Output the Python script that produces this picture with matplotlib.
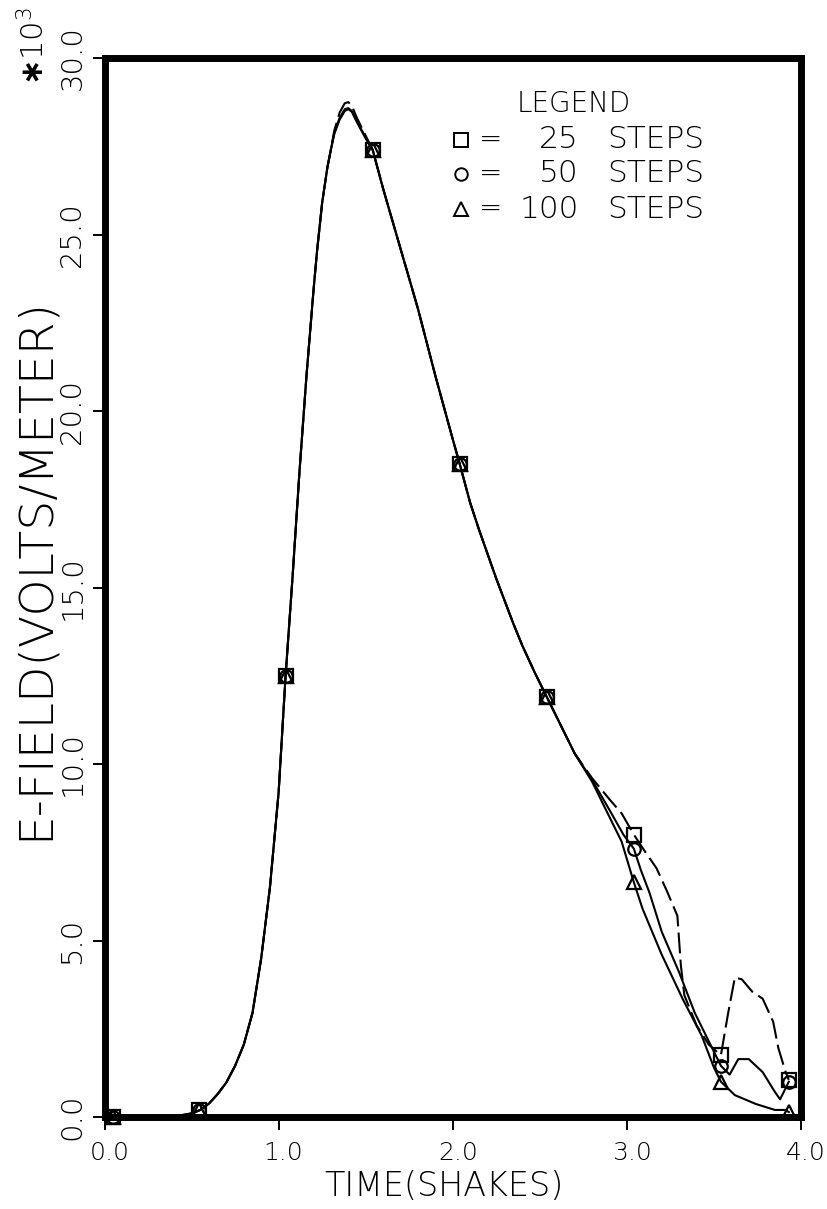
import matplotlib
matplotlib.use("Agg")
import matplotlib.pyplot as plt
from matplotlib.transforms import ScaledTranslation

# ---- data: electric field (x1000 V/m) vs time (shakes) for three step counts ----
# shared rising edge
t_rise = [0.00, 0.20, 0.40, 0.50, 0.55, 0.60, 0.65, 0.70, 0.75, 0.80, 0.85,
          0.90, 0.95, 1.00, 1.04, 1.08, 1.12, 1.16, 1.20, 1.22, 1.25, 1.28,
          1.30]
e_rise = [0.00, 0.00, 0.02, 0.10, 0.20, 0.38, 0.65, 0.98, 1.45, 2.05, 2.95,
          4.50, 6.50, 9.20, 12.50, 15.30, 18.30, 21.00, 23.40, 24.50, 25.90,
          26.90, 27.40]

# peak region, slightly different per run
t_peak = [1.32, 1.35, 1.38, 1.40, 1.42, 1.45, 1.50]
e_peak_25 = [27.95, 28.45, 28.72, 28.75, 28.65, 28.30, 27.80]
e_peak_50 = [27.90, 28.30, 28.55, 28.58, 28.50, 28.20, 27.75]
e_peak_100 = [27.85, 28.25, 28.50, 28.55, 28.48, 28.18, 27.72]

# shared falling edge
t_fall = [1.54, 1.60, 1.70, 1.80, 1.90, 2.00, 2.04, 2.10, 2.15, 2.20, 2.25,
          2.30, 2.35, 2.40, 2.47, 2.54, 2.60, 2.70]
e_fall = [27.40, 26.30, 24.60, 22.90, 21.00, 19.20, 18.50, 17.40, 16.65,
          15.95, 15.25, 14.60, 13.95, 13.35, 12.60, 11.90, 11.30, 10.30]

# late-time tails, where the runs separate
t_tail_25 = [2.80, 2.90, 2.97, 3.04, 3.10, 3.17, 3.23, 3.29, 3.31, 3.33, 3.40,
             3.47, 3.54, 3.58, 3.62, 3.66, 3.72, 3.78, 3.84, 3.87, 3.91, 3.93]
e_tail_25 = [9.60, 9.00, 8.60, 8.00, 7.55, 7.05, 6.40, 5.70, 4.30, 3.45, 2.60,
             2.05, 1.75, 2.90, 3.95, 3.90, 3.55, 3.35, 2.70, 1.95, 1.30, 1.05]

t_tail_50 = [2.80, 2.90, 2.98, 3.04, 3.08, 3.13, 3.20, 3.30, 3.39, 3.49, 3.54,
             3.59, 3.64, 3.70, 3.78, 3.85, 3.88, 3.93]
e_tail_50 = [9.55, 8.70, 8.00, 7.60, 7.00, 6.35, 5.25, 4.10, 2.95, 1.95, 1.45,
             1.20, 1.64, 1.64, 1.27, 0.71, 0.50, 1.00]

t_tail_100 = [2.80, 2.90, 2.97, 3.04, 3.09, 3.20, 3.32, 3.43, 3.50, 3.54, 3.62,
              3.74, 3.85, 3.91, 3.93]
e_tail_100 = [9.50, 8.50, 7.80, 6.65, 5.90, 4.60, 3.35, 2.30, 1.40, 1.00, 0.62,
              0.37, 0.20, 0.20, 0.14]

# plotted sample points (symbols)
t_mark = [0.05, 0.54, 1.04, 1.54, 2.04, 2.54, 3.04, 3.54, 3.93]
e_mark_25 = [0.0, 0.2, 12.5, 27.4, 18.5, 11.9, 8.00, 1.75, 1.05]
e_mark_50 = [0.0, 0.2, 12.5, 27.4, 18.5, 11.9, 7.60, 1.45, 1.00]
e_mark_100 = [0.0, 0.2, 12.5, 27.4, 18.5, 11.9, 6.65, 1.00, 0.14]

x_ticks = [0.0, 1.0, 2.0, 3.0, 4.0]
y_ticks = [0.0, 5.0, 10.0, 15.0, 20.0, 25.0, 30.0]
steps = [25, 50, 100]
symbols = ["s", "o", "^"]

# ---- figure ----
FONT = "DejaVu Sans"
plt.rcParams["font.family"] = [FONT]
plt.rcParams["font.weight"] = 200
plt.rcParams["axes.labelweight"] = 200

W, H, DPI = 827, 1209, 100
fig = plt.figure(figsize=(W / DPI, H / DPI), dpi=DPI)
fig.patch.set_facecolor("white")

x0, x1, yb, yt = 104.5, 801.0, 1117.0, 58.0
ax = fig.add_axes([x0 / W, (H - yb) / H, (x1 - x0) / W, (yb - yt) / H])
ax.set_xlim(0.0, 4.0)
ax.set_ylim(0.0, 30.0)

series = [
    (t_rise + t_peak + t_fall + t_tail_25,
     e_rise + e_peak_25 + e_fall + e_tail_25, e_mark_25, (0, (10, 3))),
    (t_rise + t_peak + t_fall + t_tail_50,
     e_rise + e_peak_50 + e_fall + e_tail_50, e_mark_50, "-"),
    (t_rise + t_peak + t_fall + t_tail_100,
     e_rise + e_peak_100 + e_fall + e_tail_100, e_mark_100, "-"),
]
msizes = [9.5, 9.0, 10.0]
for (tt, ee, em, ls), sym, ms in zip(series, symbols, msizes):
    ax.plot(tt, ee, color="black", lw=1.5, ls=ls, solid_joinstyle="round",
            zorder=3)
    ax.plot(t_mark, em, ls="none", marker=sym, ms=ms, mfc="none",
            mec="black", mew=1.6, zorder=4, clip_on=False)

# frame and ticks
for sp in ax.spines.values():
    sp.set_linewidth(5.0)
    sp.set_color("black")
ax.set_xticks(x_ticks)
ax.set_yticks(y_ticks)
ax.set_xticklabels([f"{v:.1f}" for v in x_ticks])
ax.set_yticklabels([f"{v:.1f}" for v in y_ticks], rotation=90, va="center")
ax.tick_params(axis="both", direction="out", length=9, width=1.4,
               colors="black")
ax.tick_params(axis="x", pad=8, labelsize=18)
ax.tick_params(axis="y", pad=4, labelsize=21)
for lab in ax.get_xticklabels():
    lab.set_transform(lab.get_transform()
                      + ScaledTranslation(5 / DPI, 0, fig.dpi_scale_trans))

ax.set_xlabel("TIME(SHAKES)", fontsize=24)
ax.xaxis.set_label_coords((444 - x0) / (x1 - x0), (yb - 1187) / (yb - yt))
ax.xaxis.label.set_va("center")
ax.set_ylabel("E-FIELD(VOLTS/METER)", fontsize=34)
ax.yaxis.set_label_coords((35 - x0) / (x1 - x0), (yb - 568) / (yb - yt))
ax.yaxis.label.set_va("center")

# exponent marker for the y scale
fig.text(34 / W, 1 - 46 / H, r"$\mathbf{\ast}$10$^3$", rotation=90,
         fontsize=22, fontweight=200, ha="center", va="center")

# legend block
def axc(px, py):
    return ((px - x0) / (x1 - x0), (yb - py) / (yb - yt))

ax.text(*axc(574, 104), "LEGEND", fontsize=20, ha="center", va="center",
        transform=ax.transAxes)
rows_y = [140, 174, 209]
for sym, n, py, ms in zip(symbols, steps, rows_y, msizes):
    mx, my = axc(461, py)
    ax.plot([mx], [my], marker=sym, ms=ms, mfc="none", mec="black",
            mew=1.4, transform=ax.transAxes, clip_on=False)
    ax.text(*axc(491, py), "=", fontsize=20, ha="center", va="center",
            transform=ax.transAxes)
    ax.text(*axc(579, py), f"{n}", fontsize=22.5, ha="right", va="center",
            transform=ax.transAxes)
    ax.text(*axc(607, py), "STEPS", fontsize=22.5, ha="left", va="center",
            transform=ax.transAxes)

fig.savefig("out.png", dpi=DPI, facecolor="white")
